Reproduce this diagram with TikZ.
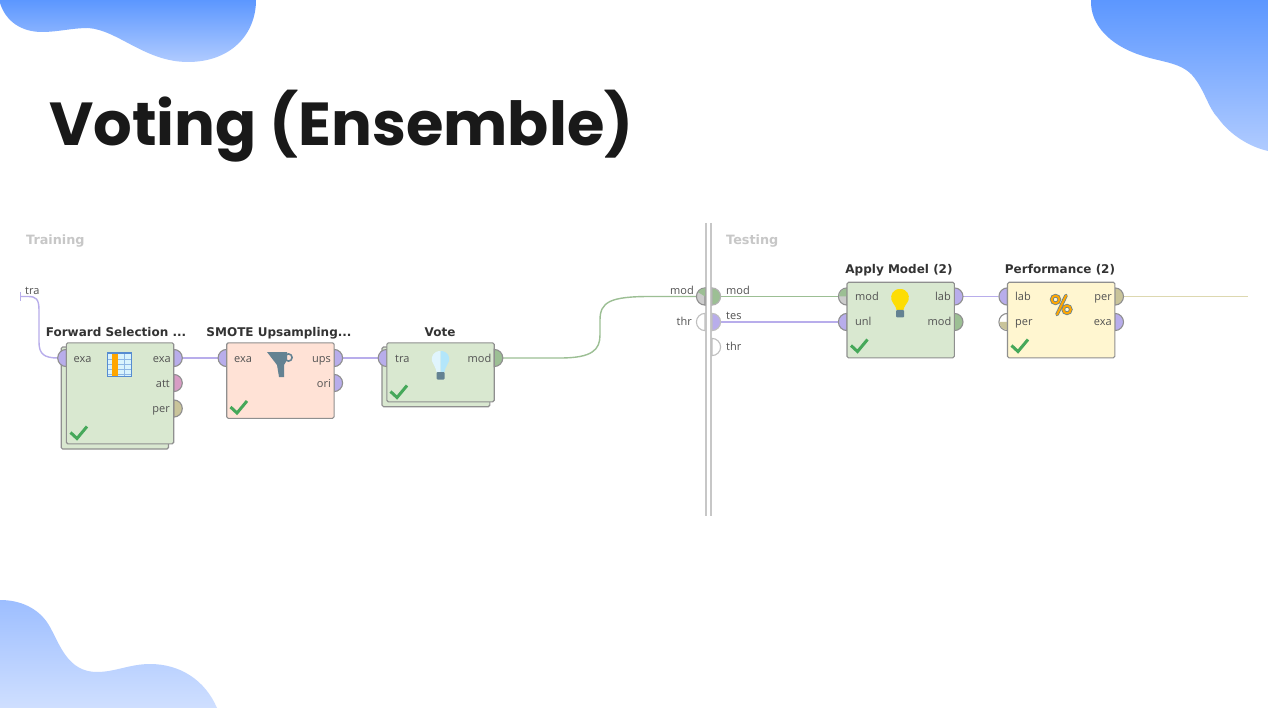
\documentclass[tikz,border=0pt]{standalone}
\usepackage{fontspec}
\setmainfont{Open Sans}
\newfontfamily\titlefont{Poppins}
\newfontfamily\headfont{DejaVu Sans}
\usetikzlibrary{calc}
\definecolor{exa}{HTML}{B8ADEB}
\definecolor{modc}{HTML}{9CBF94}
\definecolor{perc}{HTML}{C9C49A}
\definecolor{attc}{HTML}{D79CC4}
\definecolor{edge}{HTML}{8F8F8F}
\definecolor{greenbox}{HTML}{D9E8D0}
\definecolor{pinkbox}{HTML}{FFE2D6}
\definecolor{yellowbox}{HTML}{FFF6D0}
\definecolor{slate}{HTML}{648292}
\definecolor{tickc}{HTML}{46A85A}
\definecolor{wirep}{HTML}{DDD8B0}
\tikzset{
 x=1pt,y=-1pt,
 opbox/.style={draw=edge,line width=1.1pt,rounded corners=1.5pt},
 opnode/.style={opbox,outer sep=0pt,inner sep=0pt,minimum width=107.4pt,anchor=north west},
 lbl/.style={font=\fontsize{11}{12}\selectfont,text=black!68,inner sep=0pt,text height=8pt,text depth=0pt},
 optitle/.style={font=\headfont\fontsize{12}{14}\selectfont\bfseries,text=black!80,inner sep=0pt,text height=10pt,text depth=0pt},
 grouplbl/.style={font=\headfont\fontsize{12.8}{14}\selectfont\bfseries,text=black!22,inner sep=0pt,anchor=west,text height=10pt,text depth=0pt},
 wireE/.style={exa,line width=1.4pt},
 wireM/.style={modc,line width=1.4pt},
 wireP/.style={wirep,line width=1.5pt},
 check/.style={draw=tickc,line width=3pt},
}
\newcommand{\portR}[3]{\filldraw[fill=#3,draw=edge,line width=1.1pt] (#1,#2+8.6) arc[start angle=90,end angle=-90,radius=8.6] -- cycle;}
\newcommand{\portL}[3]{\filldraw[fill=#3,draw=edge,line width=1.1pt] (#1,#2+8.6) arc[start angle=90,end angle=270,radius=8.6] -- cycle;}
\newcommand{\tick}[2]{\draw[check] (#1,#2) -- ++(6.5,6) -- ++(10,-12);}
\begin{document}
\begin{tikzpicture}
\useasboundingbox (0,0) rectangle (1268,708);
\fill[white] (0,0) rectangle (1268,708);
% blobs
\definecolor{bA}{HTML}{5C97FF}\definecolor{bB}{HTML}{B0CBFF}\definecolor{bC}{HTML}{9DBEFF}\definecolor{bD}{HTML}{CFDFFF}
\shade[top color=bA,bottom color=bB] (0,0) -- (0,3) .. controls (6,22) and (22,32) .. (42,32) .. controls (58,32) and (72,28) .. (88,28)
 .. controls (118,30) and (145,62) .. (188,62) .. controls (230,62) and (256,35) .. (256,0) -- cycle;
\shade[top color=bA,bottom color=bB] (1091,0) .. controls (1090,25) and (1110,45) .. (1140,55) .. controls (1160,62) and (1180,62) .. (1192,75)
 .. controls (1205,90) and (1208,108) .. (1218,118) .. controls (1230,135) and (1250,147) .. (1268,151) -- (1268,0) -- cycle;
\shade[top color=bC,bottom color=bD] (0,600) .. controls (25,600) and (42,612) .. (50,627) .. controls (60,645) and (68,672) .. (97,672)
 .. controls (115,672) and (130,664) .. (150,664) .. controls (180,664) and (205,680) .. (217,708) -- (0,708) -- cycle;
% title
\node[inner sep=0pt,anchor=base west,text=black!90] (title) at (49,146) {\fontsize{60.7}{70}\selectfont\titlefont\bfseries Voting (Ensemble)};
% group labels
\node[grouplbl] (ltrain) at (26,240) {Training};
\node[grouplbl] (ltest) at (726,240) {Testing};
% divider
\draw[black!22,line width=1.8pt] (706,223) -- (706,516);
\draw[black!22,line width=1.8pt] (710.8,223) -- (710.8,516);
% wires
\coordinate (src) at (20,296.5);
\coordinate (a1) at (58,358);\coordinate (a2) at (182,358);\coordinate (b1) at (218,358);\coordinate (b2) at (342,358);
\coordinate (c1) at (379,358);\coordinate (c2) at (502,358);\coordinate (d1) at (697,296.5);\coordinate (d2) at (720,296.5);
\coordinate (e1) at (838,296.5);\coordinate (f2) at (720,322);\coordinate (f1) at (838,322);
\coordinate (g2) at (963,296.5);\coordinate (h1) at (998,296.5);\coordinate (h2) at (1123,296.5);\coordinate (z) at (1248,296.5);
\draw[wireE] (src) -- (28,296.5) .. controls (36,296.5) and (39,299) .. (39,310) -- (39,342) .. controls (39,354) and (44,358) .. (a1);
\draw[exa,line width=1pt] (20,292) -- (20,301);
\draw[wireE] (a2) -- (b1);
\draw[wireE] (b2) -- (c1);
\draw[wireM] (c2) -- (560,358) .. controls (592,358) and (600,350) .. (600,335) -- (600,320) .. controls (600,302) and (610,296.5) .. (650,296.5) -- (d1);
\draw[wireM] (d2) -- (e1);
\draw[wireE] (f2) -- (f1);
\draw[wireE] (g2) -- (h1);
\draw[wireP] (h2) -- (z);
% --- Forward Selection
\node[optitle] (t1) at (116,331) {Forward Selection ...};
\draw[opbox,fill=greenbox] (61.2,347) rectangle (168.5,449);
\portL{66.3}{358}{exa}
\portR{173.7}{358}{exa}\portR{173.7}{383}{attc}\portR{173.7}{408.5}{perc}
\node[opnode,fill=greenbox,minimum height=101pt] (op1) at (66.3,342.8) {};
\node[lbl,anchor=west] (p1a) at (73.5,358) {exa};
\node[lbl,anchor=east] (p1b) at (171,358) {exa};
\node[lbl,anchor=east] (p1c) at (170,383) {att};
\node[lbl,anchor=east] (p1d) at (170,408.5) {per};
\tick{70.5}{432.5}
% table icon
\fill[cyan!50!blue!70] (107,352) rectangle (132,377);
\fill[cyan!15!white] (108,354) rectangle (131,376);
\foreach \yy in {359,364,369,374} \draw[cyan!60!blue!45,line width=.7pt] (108,\yy) -- (131,\yy);
\foreach \xx in {124} \draw[cyan!60!blue!45,line width=.7pt] (\xx,354) -- (\xx,376);
\fill[orange!70!yellow] (112,354) rectangle (118,376);
% --- SMOTE
\node[optitle] (t2) at (279,331) {SMOTE Upsampling...};
\portL{226.7}{358}{exa}
\portR{334}{358}{exa}\portR{334}{383}{exa}
\node[opnode,fill=pinkbox,minimum height=75.5pt] (op2) at (226.7,342.8) {};
\node[lbl,anchor=west] (p2a) at (234,358) {exa};
\node[lbl,anchor=east] (p2b) at (331,358) {ups};
\node[lbl,anchor=east] (p2c) at (331,383) {ori};
\tick{230.5}{407}
% funnel icon
\fill[slate] (267,352) -- (287,352) -- (287,360) -- (284,365) -- (284,377) -- (279,377) -- (277,365) -- cycle;
\draw[slate,line width=1.6pt] (288.5,357.5) circle (3.6);
% --- Vote
\node[optitle] (t3) at (440,331) {Vote};
\draw[opbox,fill=greenbox] (382,347) rectangle (489.8,406.7);
\portL{386.8}{358}{exa}
\node[opnode,fill=greenbox,minimum height=59pt] (op3) at (386.8,342.8) {};
\portR{494.2}{358}{modc}
\node[lbl,anchor=west] (p3a) at (395,358) {tra};
\node[lbl,anchor=east] (p3b) at (491.5,358) {mod};
\tick{390.5}{391.5}
% bulb light
\fill[cyan!12!white] (440.5,351) .. controls (433,351) and (431,357) .. (432,361) .. controls (433,365) and (436,367) .. (436.5,372) -- (440.5,372) -- cycle;
\fill[cyan!30!white] (440.5,351) .. controls (448,351) and (450,357) .. (449,361) .. controls (448,365) and (445,367) .. (444.5,372) -- (440.5,372) -- cycle;
\fill[slate,rounded corners=1pt] (436.5,372) rectangle (444.5,379.5);
% --- centre ports
\portL{705}{296.5}{black!20}
\fill[modc] (705,288.2) arc[start angle=-90,end angle=-150,radius=8] -- (705,296.5) -- cycle;
\filldraw[fill=white,draw=black!25,line width=1.1pt] (705,330.6) arc[start angle=90,end angle=270,radius=8.6] -- cycle;
\filldraw[fill=modc,draw=black!30,line width=1.1pt] (712,305.1) arc[start angle=90,end angle=-90,radius=8.6] -- cycle;
\filldraw[fill=exa,draw=black!25,line width=1.1pt] (712,330.6) arc[start angle=90,end angle=-90,radius=8.6] -- cycle;
\filldraw[fill=white,draw=black!25,line width=1.1pt] (712,355.6) arc[start angle=90,end angle=-90,radius=8.6] -- cycle;
\node[lbl,anchor=east] (pl1) at (694,291) {mod};
\node[lbl,anchor=east] (pl2) at (692,322) {thr};
\node[lbl,anchor=west] (pr1) at (726,291) {mod};
\node[lbl,anchor=west] (pr2) at (726,315.5) {tes};
\node[lbl,anchor=west] (pr3) at (726,346.5) {thr};
\node[lbl,anchor=west] (src1) at (25,291) {tra};
% --- Apply Model
\node[optitle] (t4) at (899,269) {Apply Model (2)};
\portL{847}{296.5}{black!20}
\fill[modc] (847,288.5) arc[start angle=-90,end angle=-180,radius=8] -- (847,296.5) -- cycle;
\portL{847}{322}{exa}
\portR{954.4}{296.5}{exa}\portR{954.4}{322}{modc}
\node[opnode,fill=greenbox,minimum height=75.5pt] (op4) at (847,282.3) {};
\node[lbl,anchor=west] (p4a) at (855,296.5) {mod};
\node[lbl,anchor=west] (p4b) at (855,322) {unl};
\node[lbl,anchor=east] (p4c) at (951,296.5) {lab};
\node[lbl,anchor=east] (p4d) at (951.5,322) {mod};
\tick{851}{345.5}
\fill[yellow!80!orange] (900,289) .. controls (893,289) and (890,295) .. (891.5,300) .. controls (893,304) and (896,306) .. (896.5,310) -- (903.5,310) .. controls (904,306) and (907,304) .. (908.5,300) .. controls (910,295) and (907,289) .. (900,289) -- cycle;
\fill[slate,rounded corners=1pt] (896,310) rectangle (904,317.5);
% --- Performance
\node[optitle] (t5) at (1060,269) {Performance (2)};
\portL{1007.5}{296.5}{exa}
\portL{1007.5}{322}{white}
\fill[perc] (999.5,322) arc[start angle=180,end angle=90,radius=8] -- (1007.5,322) -- cycle;
\portR{1114.9}{296.5}{perc}\portR{1114.9}{322}{exa}
\node[opnode,fill=yellowbox,minimum height=75.5pt] (op5) at (1007.5,282.3) {};
\node[lbl,anchor=west] (p5a) at (1015,296.5) {lab};
\node[lbl,anchor=west] (p5b) at (1015,322) {per};
\node[lbl,anchor=east] (p5c) at (1112,296.5) {per};
\node[lbl,anchor=east] (p5d) at (1112,322) {exa};
\tick{1011.5}{345.5}
% percent icon
\foreach \pa/\pb in {slate/3.6,orange!70!yellow/2}{
 \draw[\pa,line width=\pb pt,line cap=round] (1066,295.5) -- (1057,314.5);
 \draw[\pa,line width=\pb pt] (1055.5,299.5) circle (3.8);
 \draw[\pa,line width=\pb pt] (1067,309.5) circle (3.8);
}
\end{tikzpicture}
\end{document}
